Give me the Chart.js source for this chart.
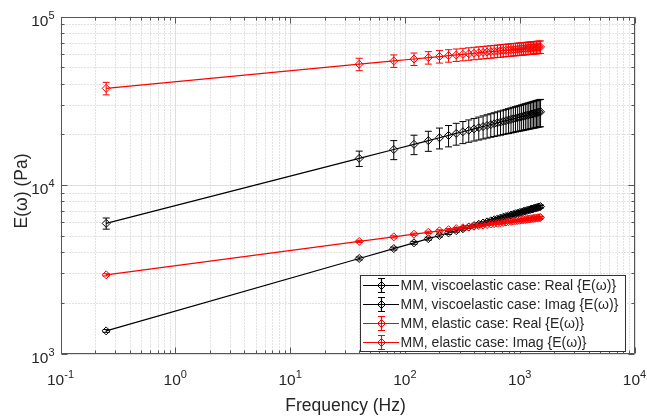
<!DOCTYPE html>
<html><head><meta charset="utf-8">
<script src="https://cdn.jsdelivr.net/npm/chart.js@4.4.1/dist/chart.umd.min.js"></script>
<style>html,body{margin:0;padding:0;background:#fff;}canvas{display:block;}</style>
</head><body>
<canvas id="c" width="647" height="419"></canvas>
<script>
// ---- data ----
const freqs = [0.25,40,80,120,160,200,240,280,320,360,400,440,480,520,560,600,640,680,720,760,800,840,880,920,960,1000,1040,1080,1120,1160,1200,1240,1280,1320,1360,1400,1440,1480,1520];
const viscoReal = [5920,14390,16240,17440,18340,19070,19690,20230,20700,21130,21530,21890,22230,22540,22840,23110,23370,23620,23860,24090,24300,24510,24710,24900,25090,25270,25440,25610,25780,25930,26090,26240,26380,26530,26670,26800,26940,27070,27190];
const viscoRealErr = [450,1500,2100,2300,2500,2700,2850,3000,3100,3200,3300,3400,3480,3560,3640,3720,3800,3870,3940,4010,4080,4150,4210,4270,4330,4390,4450,4510,4560,4610,4660,4710,4760,4810,4860,4900,4940,4980,5020];
const viscoImag = [1362,3664,4195,4539,4802,5016,5197,5356,5497,5625,5741,5850,5949,6043,6131,6214,6292,6367,6438,6507,6572,6634,6695,6753,6809,6864,6917,6968,7018,7066,7113,7159,7203,7246,7289,7330,7370,7410,7449];
const viscoImagErr = [27,73,84,91,96,100,104,107,110,113,115,117,119,121,123,124,126,127,129,130,131,133,134,135,136,137,138,139,140,141,142,143,144,145,146,147,147,148,149];
const elasticReal = [37460,52100,54500,55950,57010,57840,58540,59120,59640,60090,60510,60880,61230,61540,61840,62120,62380,62620,62850,63070,63290,63480,63680,63860,64040,64210,64370,64530,64680,64830,64970,65110,65250,65380,65510,65630,65750,65860,65980];
const elasticRealErr = [3200,4430,4630,4760,4850,4920,4980,5030,5070,5110,5140,5170,5200,5230,5260,5280,5300,5320,5340,5360,5380,5400,5410,5430,5440,5460,5470,5490,5500,5510,5520,5530,5550,5560,5570,5580,5590,5600,5610];
const elasticImag = [2930,4624,4921,5104,5238,5344,5433,5509,5575,5634,5689,5737,5783,5825,5864,5900,5934,5966,5997,6026,6054,6081,6106,6131,6154,6177,6199,6220,6240,6260,6279,6298,6316,6333,6350,6368,6384,6399,6414];
const elasticImagErr = [45,70,74,77,79,80,81,83,84,85,85,86,87,87,88,89,89,90,90,90,91,91,92,92,92,93,93,93,94,94,94,94,95,95,95,96,96,96,96];

const seriesLabels = ['MM, viscoelastic case: Real {E(\u03c9)}','MM, viscoelastic case: Imag {E(\u03c9)}','MM, elastic case: Real {E(\u03c9)}','MM, elastic case: Imag {E(\u03c9)}'];
const xTickValues = [0.1,1,10,100,1000,10000];
const xTickExps = ['-1','0','1','2','3','4'];
const yTickValues = [1000,10000,100000];
const yTickExps = ['3','4','5'];
const xTitle = 'Frequency (Hz)';
const yTitle = 'E(\u03c9) (Pa)';

const FONT = '"Liberation Sans", Arial, Helvetica, sans-serif';
const TXT = '#262626';

function pts(ys){ return freqs.map((f,i)=>({x:f,y:ys[i]})); }
function mk(label, ys, errs, color, order){
  return {label, data:pts(ys), errors:errs, borderColor:color, backgroundColor:'rgba(0,0,0,0)',
    pointBorderColor:color, pointBackgroundColor:'rgba(0,0,0,0)', pointStyle:'rectRot', pointRadius:4,
    pointBorderWidth:1, borderWidth:1.2, showLine:true, tension:0, order};
}

const errPlugin = {
  id:'errbars',
  afterDatasetDraw(chart, args){
    const ds = chart.data.datasets[args.index];
    if(!ds.errors) return;
    const xs = chart.scales.x, ys = chart.scales.y, ctx = chart.ctx;
    ctx.save();
    ctx.strokeStyle = ds.borderColor; ctx.lineWidth = 1;
    ctx.beginPath();
    ds.data.forEach((p,i)=>{
      const x = xs.getPixelForValue(p.x);
      const y1 = ys.getPixelForValue(p.y + ds.errors[i]);
      const y2 = ys.getPixelForValue(p.y - ds.errors[i]);
      ctx.moveTo(x,y1); ctx.lineTo(x,y2);
      ctx.moveTo(x-3.5,y1); ctx.lineTo(x+3.5,y1);
      ctx.moveTo(x-3.5,y2); ctx.lineTo(x+3.5,y2);
    });
    ctx.stroke(); ctx.restore();
  }
};

function decadeValues(lo, hi){
  const out=[];
  for(let e=lo;e<hi;e++){ for(let k=1;k<10;k++) out.push({v:k*Math.pow(10,e), major:k===1}); }
  out.push({v:Math.pow(10,hi), major:true});
  return out;
}
const xGridVals = decadeValues(-1,4);
const yGridVals = decadeValues(3,5);

function drawPow(ctx, exp, x, y, align){
  ctx.font = '15.5px ' + FONT;
  const wb = ctx.measureText('10').width;
  ctx.font = '11px ' + FONT;
  const we = ctx.measureText(exp).width;
  const w = wb + we;
  let x0 = align==='center' ? x - w/2 : x - w;
  ctx.fillStyle = TXT; ctx.textAlign='left'; ctx.textBaseline='alphabetic';
  ctx.font = '15.5px ' + FONT; ctx.fillText('10', x0, y);
  ctx.font = '11px ' + FONT; ctx.fillText(exp, x0 + wb, y - 7);
}

const axesPlugin = {
  id:'matlabAxes',
  beforeDatasetsDraw(chart){
    const {ctx, chartArea:a, scales:{x:xs, y:ys}} = chart;
    ctx.save();
    ctx.lineWidth = 1;
    ctx.strokeStyle = '#c4c4c4'; ctx.setLineDash([1,2]);
    ctx.beginPath();
    xGridVals.forEach(g=>{ if(g.major) return; const px = Math.round(xs.getPixelForValue(g.v))+0.5; ctx.moveTo(px,a.top); ctx.lineTo(px,a.bottom); });
    yGridVals.forEach(g=>{ if(g.major) return; const py = Math.round(ys.getPixelForValue(g.v))+0.5; ctx.moveTo(a.left,py); ctx.lineTo(a.right,py); });
    ctx.stroke();
    ctx.setLineDash([]); ctx.strokeStyle = '#dedede';
    ctx.beginPath();
    xGridVals.forEach(g=>{ if(!g.major) return; const px = Math.round(xs.getPixelForValue(g.v))+0.5; ctx.moveTo(px,a.top); ctx.lineTo(px,a.bottom); });
    yGridVals.forEach(g=>{ if(!g.major) return; const py = Math.round(ys.getPixelForValue(g.v))+0.5; ctx.moveTo(a.left,py); ctx.lineTo(a.right,py); });
    ctx.stroke();
    ctx.restore();
  },
  afterDatasetsDraw(chart){
    const {ctx, chartArea:a, scales:{x:xs, y:ys}} = chart;
    ctx.save();
    ctx.lineWidth = 1; ctx.strokeStyle = '#555';
    const L = Math.round(a.left)-0.5+1, R = Math.round(a.right)-0.5, T = Math.round(a.top)-0.5+1, B = Math.round(a.bottom)-0.5;
    ctx.beginPath();
    ctx.rect(L, T, R-L, B-T);
    xGridVals.forEach(g=>{ const px = Math.round(xs.getPixelForValue(g.v))+0.5; const len = g.major?6:3;
      ctx.moveTo(px,B); ctx.lineTo(px,B-len); ctx.moveTo(px,T); ctx.lineTo(px,T+len); });
    yGridVals.forEach(g=>{ const py = Math.round(ys.getPixelForValue(g.v))+0.5; const len = g.major?6:3;
      ctx.moveTo(L,py); ctx.lineTo(L+len,py); ctx.moveTo(R,py); ctx.lineTo(R-len,py); });
    ctx.stroke();
    ctx.restore();
  },
  afterDraw(chart){
    const {ctx, chartArea:a, scales:{x:xs, y:ys}} = chart;
    ctx.save();
    xTickValues.forEach((v,i)=> drawPow(ctx, xTickExps[i], xs.getPixelForValue(v), a.bottom + 31, 'center'));
    yTickValues.forEach((v,i)=> drawPow(ctx, yTickExps[i], a.left - 6, ys.getPixelForValue(v) + 9, 'right'));
    ctx.fillStyle = TXT; ctx.font = '17.5px ' + FONT; ctx.textAlign='center'; ctx.textBaseline='alphabetic';
    ctx.fillText(xTitle, (a.left+a.right)/2 - 2, 411);
    ctx.save(); ctx.translate(27, (a.top+a.bottom)/2 + 6); ctx.rotate(-Math.PI/2);
    ctx.fillText(yTitle, 0, 0); ctx.restore();
    const bx=360.5, by=275.5, bw=265, bh=76;
    ctx.fillStyle='#fff'; ctx.fillRect(bx,by,bw,bh);
    ctx.strokeStyle='#333'; ctx.lineWidth=1; ctx.strokeRect(bx,by,bw,bh);
    chart.data.datasets.forEach((ds,i)=>{
      const yy = 285.5 + i*19;
      const c = ds.borderColor;
      ctx.strokeStyle=c; ctx.lineWidth=1.2;
      ctx.beginPath(); ctx.moveTo(363,yy); ctx.lineTo(399,yy);
      ctx.moveTo(381.5,yy-7); ctx.lineTo(381.5,yy+7);
      ctx.moveTo(378,yy-7); ctx.lineTo(385,yy-7);
      ctx.moveTo(378,yy+7); ctx.lineTo(385,yy+7);
      ctx.stroke();
      ctx.lineWidth=1;
      ctx.beginPath(); ctx.moveTo(381.5,yy-4); ctx.lineTo(385.5,yy); ctx.lineTo(381.5,yy+4); ctx.lineTo(377.5,yy); ctx.closePath(); ctx.stroke();
      ctx.fillStyle = TXT; ctx.font='14px '+FONT; ctx.textAlign='left'; ctx.textBaseline='middle';
      ctx.fillText(ds.label, 400.5, yy+0.5);
    });
    ctx.restore();
  }
};

new Chart(document.getElementById('c'), {
  type:'scatter',
  data:{ datasets:[
    mk(seriesLabels[0], viscoReal, viscoRealErr, '#000000', 4),
    mk(seriesLabels[1], viscoImag, viscoImagErr, '#000000', 3),
    mk(seriesLabels[2], elasticReal, elasticRealErr, '#ff0000', 2),
    mk(seriesLabels[3], elasticImag, elasticImagErr, '#ff0000', 1)
  ]},
  options:{
    responsive:false, animation:false, devicePixelRatio:1,
    layout:{padding:{left:60.5, right:12.5, top:16.5, bottom:65.5}},
    plugins:{legend:{display:false}, tooltip:{enabled:false}},
    scales:{
      x:{type:'logarithmic', min:0.1, max:10000, display:false},
      y:{type:'logarithmic', min:1000, max:100000, display:false}
    }
  },
  plugins:[errPlugin, axesPlugin]
});
</script>
</body></html>
